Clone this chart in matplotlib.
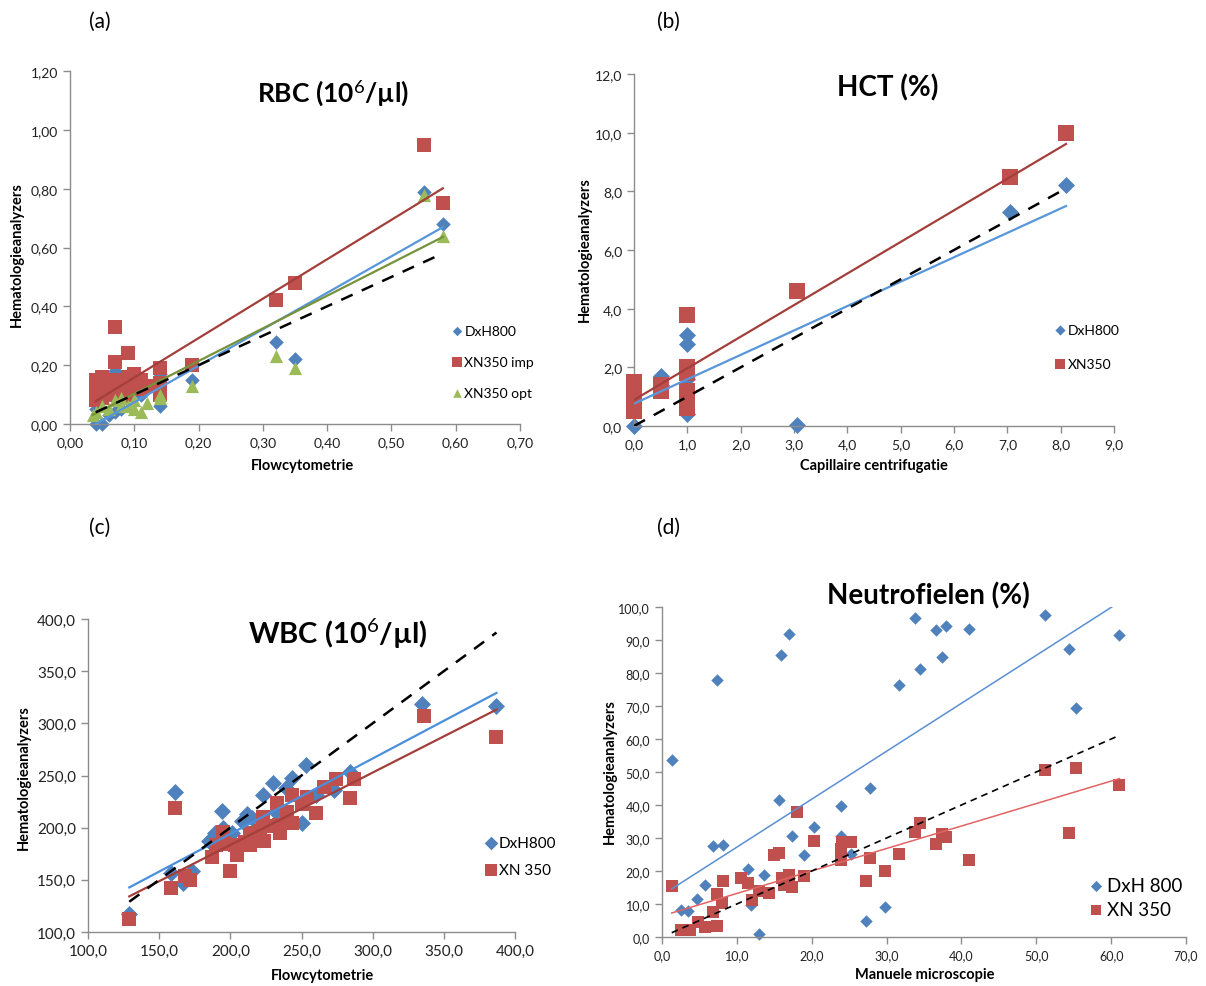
import numpy as np
import matplotlib
matplotlib.use("Agg")
import matplotlib.pyplot as plt
from matplotlib.ticker import FuncFormatter, MultipleLocator

plt.rcParams["font.family"] = ["Lato", "DejaVu Sans"]
plt.rcParams["mathtext.fontset"] = "custom"
plt.rcParams["mathtext.rm"] = "Lato"
plt.rcParams["mathtext.it"] = "Lato:italic"
plt.rcParams["mathtext.bf"] = "Lato:bold"

BLUE = "#4F81BD"
RED = "#C0504D"
GREEN = "#9BBB59"
AXIS_GREY = "#8C8C8C"

# ---- (a) RBC ----
rbc_dxh_x = [0.04, 0.05, 0.04, 0.07, 0.07, 0.06, 0.08, 0.11, 0.14, 0.14, 0.19, 0.32, 0.35, 0.55, 0.58]
rbc_dxh_y = [0.00, 0.00, 0.05, 0.18, 0.04, 0.03, 0.05, 0.10, 0.17, 0.06, 0.15, 0.28, 0.22, 0.79, 0.68]
rbc_imp_x = [0.07, 0.09, 0.07, 0.04, 0.04, 0.05, 0.05, 0.07, 0.08, 0.09, 0.10, 0.10, 0.11, 0.11, 0.12,
             0.14, 0.14, 0.14, 0.19, 0.06, 0.07, 0.08, 0.09, 0.05, 0.04, 0.32, 0.35, 0.55, 0.58]
rbc_imp_y = [0.33, 0.24, 0.21, 0.15, 0.12, 0.16, 0.12, 0.15, 0.14, 0.16, 0.17, 0.13, 0.15, 0.12, 0.13,
             0.19, 0.14, 0.10, 0.20, 0.11, 0.10, 0.09, 0.10, 0.09, 0.08, 0.42, 0.48, 0.95, 0.75]
rbc_opt_x = [0.035, 0.05, 0.06, 0.07, 0.08, 0.09, 0.10, 0.11, 0.12, 0.14, 0.14, 0.19, 0.04, 0.08, 0.10,
             0.32, 0.35, 0.55, 0.58]
rbc_opt_y = [0.03, 0.06, 0.05, 0.08, 0.09, 0.06, 0.08, 0.04, 0.07, 0.10, 0.09, 0.13, 0.04, 0.06, 0.05,
             0.23, 0.19, 0.78, 0.64]
rbc_fit = {"dxh": (1.24, -0.05), "imp": (1.34, 0.024), "opt": (1.11, -0.008)}

# ---- (b) HCT ----
hct_dxh_x = [0.0, 0.5, 0.5, 1.0, 1.0, 1.0, 1.0, 3.05, 7.05, 8.1]
hct_dxh_y = [0.0, 1.7, 1.4, 3.1, 2.8, 1.6, 0.4, 0.05, 7.3, 8.2]
hct_xn_x = [0.0, 0.0, 0.0, 0.0, 0.5, 0.5, 1.0, 1.0, 1.0, 1.0, 1.0, 1.0, 3.05, 7.05, 8.1]
hct_xn_y = [1.5, 1.2, 0.9, 0.5, 1.4, 1.2, 3.8, 2.0, 1.8, 1.2, 0.8, 0.6, 4.6, 8.5, 10.0]
hct_fit = {"dxh": (0.832, 0.76), "xn": (1.077, 0.89)}

# ---- (c) WBC ----
wbc_dxh_x = [129, 161, 158, 167, 173, 185, 189, 194, 195, 201, 208, 212, 215, 223, 230, 232, 239,
             243, 250, 253, 260, 273, 284, 335, 387]
wbc_dxh_y = [117, 234, 157, 147, 158, 187, 195, 216, 200, 195, 206, 213, 209, 231, 243, 215, 238,
             248, 204, 260, 231, 236, 253, 319, 317]
wbc_xn_x = [129, 161, 158, 168, 172, 187, 190, 195, 196, 200, 203, 205, 210, 214, 214, 221, 223, 224,
            231, 233, 235, 234, 240, 243, 243, 250, 254, 260, 266, 274, 284, 287, 336, 387]
wbc_xn_y = [112, 219, 142, 154, 150, 172, 183, 196, 184, 158, 183, 174, 186, 183, 195, 197, 210, 187,
            202, 224, 195, 203, 215, 231, 204, 223, 229, 214, 239, 247, 228, 247, 307, 287]
wbc_fit = {"dxh": (0.7226, 49.5), "xn": (0.694, 44.6)}

# ---- (d) Neutrofielen ----
neu_dxh_x = [1.3, 2.5, 3.5, 4.7, 5.7, 6.8, 7.4, 8.1, 11.5, 11.9, 12.9, 13.6, 15.6, 15.9, 17.0, 17.3,
             19.0, 20.3, 23.9, 23.9, 25.3, 27.2, 27.8, 29.8, 31.7, 33.8, 34.5, 36.6, 37.4, 38.0, 41.0,
             51.1, 54.4, 55.3, 61.1]
neu_dxh_y = [53.7, 8.1, 7.9, 11.6, 15.9, 27.6, 78.0, 27.8, 20.5, 9.8, 0.8, 18.9, 41.6, 85.4, 91.7, 30.6,
             24.7, 33.3, 39.6, 30.6, 25.3, 4.8, 45.3, 9.1, 76.5, 96.7, 81.1, 93.1, 84.9, 94.1, 93.3,
             97.5, 87.2, 69.4, 91.4]
neu_xn_x = [1.3, 2.5, 3.7, 4.8, 5.8, 6.8, 7.3, 7.4, 8.0, 8.1, 10.6, 11.5, 12.0, 13.0, 14.3, 15.0, 15.6,
            16.0, 16.3, 17.0, 17.3, 18.1, 19.0, 20.3, 23.9, 23.9, 24.1, 25.3, 27.2, 27.8, 29.8, 31.7,
            33.8, 34.5, 36.6, 37.4, 38.0, 41.0, 51.1, 54.4, 55.3, 61.1]
neu_xn_y = [15.5, 2.2, 2.0, 4.5, 3.0, 7.6, 3.3, 13.1, 10.3, 16.9, 17.9, 16.5, 11.3, 13.8, 13.3, 24.7,
            25.5, 17.9, 15.9, 18.7, 15.2, 37.9, 18.4, 29.0, 23.2, 26.8, 28.8, 28.8, 16.9, 23.9, 20.0,
            25.3, 31.8, 34.5, 28.1, 31.1, 30.3, 23.4, 50.7, 31.5, 51.3, 46.0]
neu_fit = {"dxh": (1.453, 12.7), "xn": (0.681, 6.39)}

W, H = 1206, 987


def box(left, top, right, bottom):
    return [left / W, 1 - bottom / H, (right - left) / W, (bottom - top) / H]


def fpos(x, y):
    return x / W, 1 - y / H


def style_axes(ax, decimals, tick_size):
    for s in ("top", "right"):
        ax.spines[s].set_visible(False)
    for s in ("left", "bottom"):
        ax.spines[s].set_color(AXIS_GREY)
        ax.spines[s].set_linewidth(1.0)
    ax.tick_params(direction="out", length=5, width=1, color=AXIS_GREY,
                   labelsize=tick_size, labelcolor="#222222")
    fmt = FuncFormatter(lambda v, p: f"{v:.{decimals}f}".replace(".", ","))
    ax.xaxis.set_major_formatter(fmt)
    ax.yaxis.set_major_formatter(fmt)


def points(ax, x, y, marker, s, color, label, z):
    ax.scatter(x, y, marker=marker, s=s, color=color, lw=0, label=label, zorder=z,
               clip_on=False)


def trend(ax, x, coef, color, lw):
    xs = np.array([min(x), max(x)])
    ax.plot(xs, coef[0] * xs + coef[1], color=color, lw=lw, zorder=4)


def identity(ax, x, lw, dashes):
    xs = np.array([min(x), max(x)])
    ax.plot(xs, xs, color="black", lw=lw, ls=(0, dashes), zorder=5)


fig = plt.figure(figsize=(W / 100, H / 100), dpi=100)

# (a)
ax = fig.add_axes(box(70, 72, 520, 425))
points(ax, rbc_dxh_x, rbc_dxh_y, "D", 55, BLUE, "DxH800", 2)
points(ax, rbc_imp_x, rbc_imp_y, "s", 115, RED, "XN350 imp", 2)
points(ax, rbc_opt_x, rbc_opt_y, "^", 90, GREEN, "XN350 opt", 3)
trend(ax, rbc_imp_x, rbc_fit["imp"], "#A33F3B", 1.6)
trend(ax, rbc_dxh_x, rbc_fit["dxh"], "#5896DA", 1.6)
trend(ax, rbc_opt_x, rbc_fit["opt"], "#76933C", 1.6)
identity(ax, rbc_imp_x + rbc_dxh_x, 1.8, (5, 4))
ax.set_xlim(0, 0.70)
ax.set_ylim(0, 1.20)
ax.xaxis.set_major_locator(MultipleLocator(0.1))
ax.yaxis.set_major_locator(MultipleLocator(0.2))
style_axes(ax, 2, 10)
ax.legend(loc="upper left", bbox_to_anchor=(0.835, 0.30), frameon=False, fontsize=10,
          handlelength=0.6, handletextpad=0.25, labelspacing=1.35, borderpad=0,
          markerscale=0.65)

# (b)
ax = fig.add_axes(box(634, 75, 1114, 427))
points(ax, hct_dxh_x, hct_dxh_y, "D", 75, BLUE, "DxH800", 2)
points(ax, hct_xn_x, hct_xn_y, "s", 120, RED, "XN350", 3)
trend(ax, hct_xn_x, hct_fit["xn"], "#A33F3B", 1.6)
trend(ax, hct_dxh_x, hct_fit["dxh"], "#5896DA", 1.6)
identity(ax, hct_xn_x, 1.8, (5, 4))
ax.set_xlim(0, 9)
ax.set_ylim(0, 12)
ax.xaxis.set_major_locator(MultipleLocator(1))
ax.yaxis.set_major_locator(MultipleLocator(2))
style_axes(ax, 1, 10)
ax.legend(loc="upper left", bbox_to_anchor=(0.865, 0.31), frameon=False, fontsize=10,
          handlelength=0.6, handletextpad=0.25, labelspacing=1.6, borderpad=0,
          markerscale=0.6)

# (c)
ax = fig.add_axes(box(88, 620, 515, 933))
points(ax, wbc_dxh_x, wbc_dxh_y, "D", 75, BLUE, "DxH800", 2)
points(ax, wbc_xn_x, wbc_xn_y, "s", 110, RED, "XN 350", 3)
trend(ax, wbc_dxh_x, wbc_fit["dxh"], "#4A8FDB", 1.6)
trend(ax, wbc_xn_x, wbc_fit["xn"], "#A33F3B", 1.6)
identity(ax, wbc_xn_x, 1.8, (5, 4))
ax.set_xlim(100, 400)
ax.set_ylim(100, 400)
ax.xaxis.set_major_locator(MultipleLocator(50))
ax.yaxis.set_major_locator(MultipleLocator(50))
style_axes(ax, 1, 11)
ax.legend(loc="upper left", bbox_to_anchor=(0.915, 0.33), frameon=False, fontsize=11,
          handlelength=0.6, handletextpad=0.2, labelspacing=0.85, borderpad=0,
          markerscale=0.8)

# (d)
ax = fig.add_axes(box(662, 608, 1186, 938))
points(ax, neu_dxh_x, neu_dxh_y, "D", 40, BLUE, "DxH 800", 2)
points(ax, neu_xn_x, neu_xn_y, "s", 70, RED, "XN 350", 3)
trend(ax, neu_dxh_x, neu_fit["dxh"], "#5B8FD3", 1.1)
trend(ax, neu_xn_x, neu_fit["xn"], "#E06464", 1.1)
identity(ax, neu_xn_x, 1.2, (4, 3))
ax.set_xlim(0, 70)
ax.set_ylim(0, 100)
ax.xaxis.set_major_locator(MultipleLocator(10))
ax.yaxis.set_major_locator(MultipleLocator(10))
style_axes(ax, 1, 9)
ax.legend(loc="upper left", bbox_to_anchor=(0.80, 0.21), frameon=False, fontsize=13.5,
          handlelength=0.6, handletextpad=0.25, labelspacing=0.35, borderpad=0,
          markerscale=0.9)

# titles, panel letters and axis labels
titles = [("RBC (10$^6$/µl)", 333, 93, 19), ("HCT (%)", 888, 88, 20),
          ("WBC (10$^6$/µl)", 338, 634, 21), ("Neutrofielen (%)", 928, 596, 20)]
for txt, x, y, size in titles:
    fig.text(*fpos(x, y), txt, ha="center", va="center", fontsize=size, fontweight="bold")

for txt, x, y in [("(a)", 100, 22), ("(b)", 668, 22), ("(c)", 100, 528), ("(d)", 668, 528)]:
    fig.text(*fpos(x, y), txt, ha="center", va="center", fontsize=15)

xlabels = [("Flowcytometrie", 303, 466), ("Capillaire centrifugatie", 874, 466),
           ("Flowcytometrie", 323, 976), ("Manuele microscopie", 925, 975)]
for txt, x, y in xlabels:
    fig.text(*fpos(x, y), txt, ha="center", va="center", fontsize=10.5, fontweight="bold")

ylabels = [(17, 255), (585, 250), (24, 778), (610, 772)]
for x, y in ylabels:
    fig.text(*fpos(x, y), "Hematologieanalyzers", ha="center", va="center", rotation=90,
             fontsize=10.5, fontweight="bold")

fig.savefig("out.png", dpi=100)
